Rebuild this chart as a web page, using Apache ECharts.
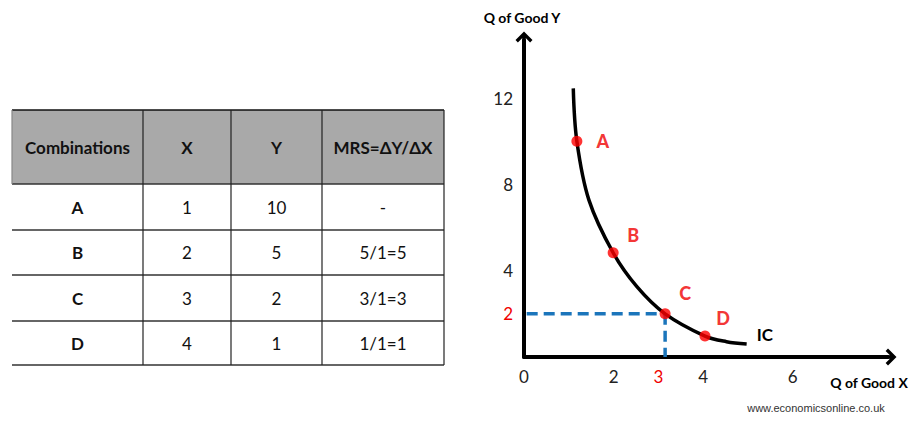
<!DOCTYPE html>
<html>
<head>
<meta charset="utf-8">
<script src="https://cdn.jsdelivr.net/npm/echarts@6/dist/echarts.min.js"></script>
<style>
html,body{margin:0;padding:0;background:#fff;}
#main{width:918px;height:434px;}
</style>
</head>
<body>
<div id="main"></div>
<script>
// ---- Data ----
const tableHeader = ['Combinations', 'X', 'Y', 'MRS=ΔY/ΔX'];
const combinations = ['A', 'B', 'C', 'D'];
const xValues = ['1', '2', '3', '4'];
const yValues = ['10', '5', '2', '1'];
const mrsValues = ['-', '5/1=5', '3/1=3', '1/1=1'];

const icCurve = [[1.10, 12.45], [1.18, 10.0], [1.45, 7.27], [1.99, 4.83], [2.52, 3.26], [3.15, 2.0], [4.04, 0.97], [4.52, 0.71], [4.97, 0.6]];
const pointNames = ['A', 'B', 'C', 'D'];
const pointCoords = [[1.18, 10.0], [1.99, 4.83], [3.15, 2.0], [4.04, 0.97]];
const xTickLabels = [0, 2, 3, 4, 6];
const yTickLabels = [2, 4, 8, 12];
const xHighlight = 3;
const yHighlight = 2;
const dashH = [[0.06, 2.0], [3.15, 2.0]];
const dashV = [[3.15, 2.0], [3.15, 0.0]];

// ---- Layout / style ----
const FONT = 'Lato, "Open Sans", sans-serif';
const RED = '#f00000';
const colX = [12, 143, 231, 322, 444];
const rowY = [110, 184, 230, 275, 321, 365];

const chart = echarts.init(document.getElementById('main'), null, {renderer: 'svg'});

const graphics = [];
graphics.push({type: 'rect', shape: {x: colX[0], y: rowY[0], width: colX[4] - colX[0], height: rowY[1] - rowY[0]}, style: {fill: '#a9a9a9'}, z: 0});
rowY.forEach((y, i) => {
  graphics.push({type: 'line', shape: {x1: colX[0], y1: y, x2: colX[4], y2: y}, style: {stroke: i === 0 ? '#111' : '#333', lineWidth: 1.5}, z: 2});
});
colX.forEach((x, i) => {
  graphics.push({type: 'line', shape: {x1: x, y1: rowY[0], x2: x, y2: i === 0 ? rowY[1] : rowY[5]}, style: {stroke: i === 0 ? '#888' : '#222', lineWidth: 1.2}, z: 2});
});
const rows = [tableHeader].concat(combinations.map((c, i) => [c, xValues[i], yValues[i], mrsValues[i]]));
rows.forEach((row, r) => {
  const cy = (rowY[r] + rowY[r + 1]) / 2;
  row.forEach((txt, c) => {
    const cx = (colX[c] + colX[c + 1]) / 2;
    const bold = r === 0 || c === 0;
    graphics.push({
      type: 'text', x: cx, y: cy, z: 3,
      style: {text: txt, fill: '#111', font: (bold ? 'bold ' : '') + '17px ' + FONT, textAlign: 'center', textVerticalAlign: 'middle'}
    });
  });
});
graphics.push({type: 'text', x: 522, y: 17, z: 3, style: {text: 'Q of Good Y', fill: '#000', font: 'bold 14px ' + FONT, textAlign: 'center', textVerticalAlign: 'middle'}});
graphics.push({type: 'text', x: 869, y: 382, z: 3, style: {text: 'Q of Good X', fill: '#000', font: 'bold 14px ' + FONT, textAlign: 'center', textVerticalAlign: 'middle'}});
graphics.push({type: 'text', x: 816, y: 408, z: 3, style: {text: 'www.economicsonline.co.uk', fill: '#333', font: '11px "Liberation Sans", Arial, sans-serif', textAlign: 'center', textVerticalAlign: 'middle'}});

const arrowPath = 'path://M50 0 L100 50 L86 64 L50 28 L14 64 L0 50 Z M40 20 L60 20 L60 100 L40 100 Z';
const labelOffsets = [[26, 0], [20, -18], [20, -21], [18, -18]];

chart.setOption({
  animation: false,
  backgroundColor: '#fff',
  graphic: graphics,
  grid: {left: 524, right: 30, top: 40, bottom: 77, containLabel: false},
  xAxis: {
    type: 'value', min: 0, max: 8.125, interval: 1,
    splitLine: {show: false},
    axisTick: {show: false},
    axisLine: {show: true, onZero: false, lineStyle: {color: '#000', width: 4}, symbol: ['none', arrowPath], symbolSize: [20, 17]},
    axisLabel: {
      margin: 11, fontSize: 17, fontFamily: FONT, color: '#222',
      formatter: v => xTickLabels.indexOf(v) >= 0 ? (v === xHighlight ? '{r|' + v + '}' : String(v)) : '',
      rich: {r: {color: RED, fontSize: 17, fontFamily: FONT}}
    }
  },
  yAxis: {
    type: 'value', min: 0, max: 14.69, interval: 1,
    splitLine: {show: false},
    axisTick: {show: false},
    axisLine: {show: true, onZero: false, lineStyle: {color: '#000', width: 4}, symbol: ['none', arrowPath], symbolSize: [20, 17]},
    axisLabel: {
      margin: 11, fontSize: 17, fontFamily: FONT, color: '#222',
      formatter: v => yTickLabels.indexOf(v) >= 0 ? (v === yHighlight ? '{r|' + v + '}' : String(v)) : '',
      rich: {r: {color: RED, fontSize: 17, fontFamily: FONT}}
    }
  },
  series: [
    {type: 'line', data: dashH, symbol: 'none', z: 2, lineStyle: {color: '#1b75bb', width: 3.5, type: [11, 6]}},
    {type: 'line', data: dashV, symbol: 'none', z: 2, lineStyle: {color: '#1b75bb', width: 3.5, type: [11, 6]}},
    {
      type: 'line', data: icCurve, symbol: 'none', smooth: 0.35, z: 3,
      lineStyle: {color: '#000', width: 3.5},
      endLabel: {show: true, formatter: 'IC', color: '#000', fontWeight: 'bold', fontSize: 17, fontFamily: FONT, offset: [2, -10]}
    },
    {
      type: 'scatter', z: 4, symbolSize: 11,
      itemStyle: {color: '#ff0000'},
      data: pointCoords.map((p, i) => ({
        value: p, name: pointNames[i],
        label: {show: true, formatter: pointNames[i], position: 'inside', offset: labelOffsets[i], color: RED, fontWeight: 900, fontSize: 18, fontFamily: FONT}
      }))
    }
  ]
});
</script>
</body>
</html>
